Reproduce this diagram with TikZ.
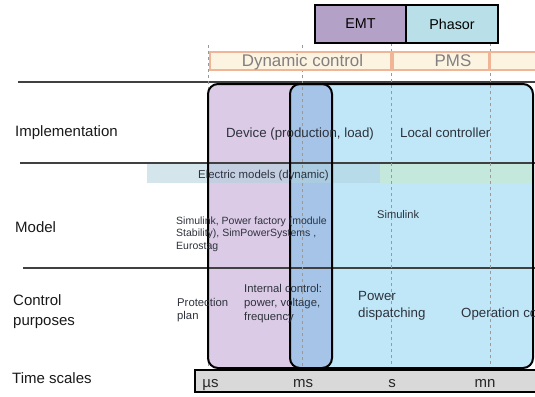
\documentclass[tikz,border=0pt]{standalone}
\usepackage{fontspec}
\setmainfont{Liberation Sans}
\definecolor{emtc}{RGB}{180,161,200}
\definecolor{phac}{RGB}{185,223,232}
\definecolor{cream}{RGB}{253,243,225}
\definecolor{salmon}{RGB}{240,180,150}
\definecolor{purp}{RGB}{220,203,230}
\definecolor{lblue}{RGB}{192,231,248}
\definecolor{ovl}{RGB}{165,196,232}
\definecolor{bandc}{RGB}{177,210,221}
\definecolor{bandg}{RGB}{196,233,220}
\definecolor{barc}{RGB}{217,217,217}
\definecolor{txt}{RGB}{45,50,60}
\begin{document}
\begin{tikzpicture}[x=1pt,y=-1pt,
  lbl/.style={font=\fontsize{15}{20}\selectfont, text=black!90, inner sep=0pt, align=left},
  mid/.style={font=\fontsize{13.3}{16.6}\selectfont, text=txt, inner sep=0pt, align=left},
  sml/.style={font=\fontsize{11.3}{13.8}\selectfont, text=txt, inner sep=0pt, align=left},
  tiny/.style={font=\fontsize{10.5}{12.5}\selectfont, text=txt, inner sep=0pt, align=left},
  topbox/.style={draw=black, line width=1.5pt, minimum height=38pt, inner sep=0pt,
     font=\fontsize{14.3}{16}\selectfont},
  dynbox/.style={draw=salmon, fill=cream, line width=2pt, minimum height=18pt, inner sep=0pt},
  dyntxt/.style={font=\fontsize{16.9}{19}\selectfont, text=black!50, inner sep=0pt},
  sep/.style={draw=black!75, line width=1.2pt},
  grid/.style={draw=black!40, line width=0.6pt, dash pattern=on 3pt off 3pt},
  frame/.style={draw=black, line width=2pt, rounded corners=10pt},
  tscale/.style={font=\fontsize{15}{18}\selectfont, text=black!85, inner sep=0pt}
]
\useasboundingbox (0,0) rectangle (535,396);
\clip (0,0) rectangle (535,396);

% fills of the two regions
\fill[purp, rounded corners=10pt] (208,84) rectangle (332,368);
\fill[lblue, rounded corners=10pt] (290,84) rectangle (533,368);
\begin{scope}
  \clip[rounded corners=10pt] (208,84) rectangle (332,368);
  \fill[ovl, rounded corners=10pt] (290,84) rectangle (533,368);
\end{scope}

% electric models band
\fill[bandc, fill opacity=0.55] (147,163) rectangle (380,183);
\fill[bandg] (380,163) rectangle (533,183);

% separators
\draw[sep] (18,82) -- (535,82);
\draw[sep] (20,163) -- (535,163);
\draw[sep] (23,268) -- (535,268);

% dashed time grid
\draw[grid] (208,45) -- (208,368);
\draw[grid] (302,45) -- (302,368);
\draw[grid] (391,43) -- (391,368);
\draw[grid] (490,43) -- (490,368);

% frames
\draw[frame] (208,84) rectangle (332,368);
\draw[frame] (290,84) rectangle (533,368);

% time bar
\node[draw=black, fill=barc, line width=2pt, minimum width=350pt, minimum height=22pt, inner sep=0pt] (bar) at (370,381) {};

% top boxes
\node[topbox, fill=emtc, minimum width=91pt] (emt) at (360.5,24) {EMT};
\node[topbox, fill=phac, minimum width=92pt] (pha) at (452,24) {Phasor};

% dynamic control / PMS band
\node[dynbox, minimum width=181pt] (dynb) at (300.5,61) {};
\node[dynbox, minimum width=96pt] (pmsb) at (441,61) {};
\node[dynbox, minimum width=55pt] (extb) at (517.5,61) {};
\node[dyntxt, anchor=base] (dyn) at (302.5,66.7) {Dynamic control};
\node[dyntxt, anchor=base] (pms) at (453,66.7) {PMS};

% left labels
\node[lbl, anchor=base west] (impl) at (15,136) {Implementation};
\node[lbl, anchor=base west] (model) at (15,232) {Model};
\node[lbl, anchor=north west] (ctrl) at (13,294.3) {Control\\purposes};
\node[lbl, anchor=base west] (times) at (12,383) {Time scales};

% implementation row
\node[mid, anchor=base] (dev) at (300,137) {Device (production, load)};
\node[mid, anchor=base west] (loc) at (400,137) {Local controller};

% model row
\node[font=\fontsize{11.4}{13}\selectfont, text=txt, inner sep=0pt, anchor=base west] (elec) at (198,178) {Electric models (dynamic)};
\node[tiny, anchor=north west] (simA) at (176,216.3) {Simulink, Power factory (module\\Stability), SimPowerSystems ,\\Eurostag};
\node[font=\fontsize{11.1}{13}\selectfont, text=txt, inner sep=0pt, anchor=base west] (simB) at (377,218.3) {Simulink};

% control purposes row
\node[sml, anchor=north west] (prot) at (177,297.8) {Protection\\plan};
\node[sml, anchor=north west] (intc) at (244,284.5) {Internal control:\\power, voltage,\\frequency};
\node[mid, anchor=north west] (pow) at (358,291.2) {Power\\dispatching};
\node[mid, anchor=base west] (oper) at (461,317.3) {Operation control};

% time scale labels
\node[tscale, anchor=base] (us) at (210.5,387) {µs};
\node[tscale, anchor=base] (ms) at (303,387) {ms};
\node[tscale, anchor=base] (s) at (392,387) {s};
\node[tscale, anchor=base] (mn) at (485,387) {mn};
\end{tikzpicture}
\end{document}
